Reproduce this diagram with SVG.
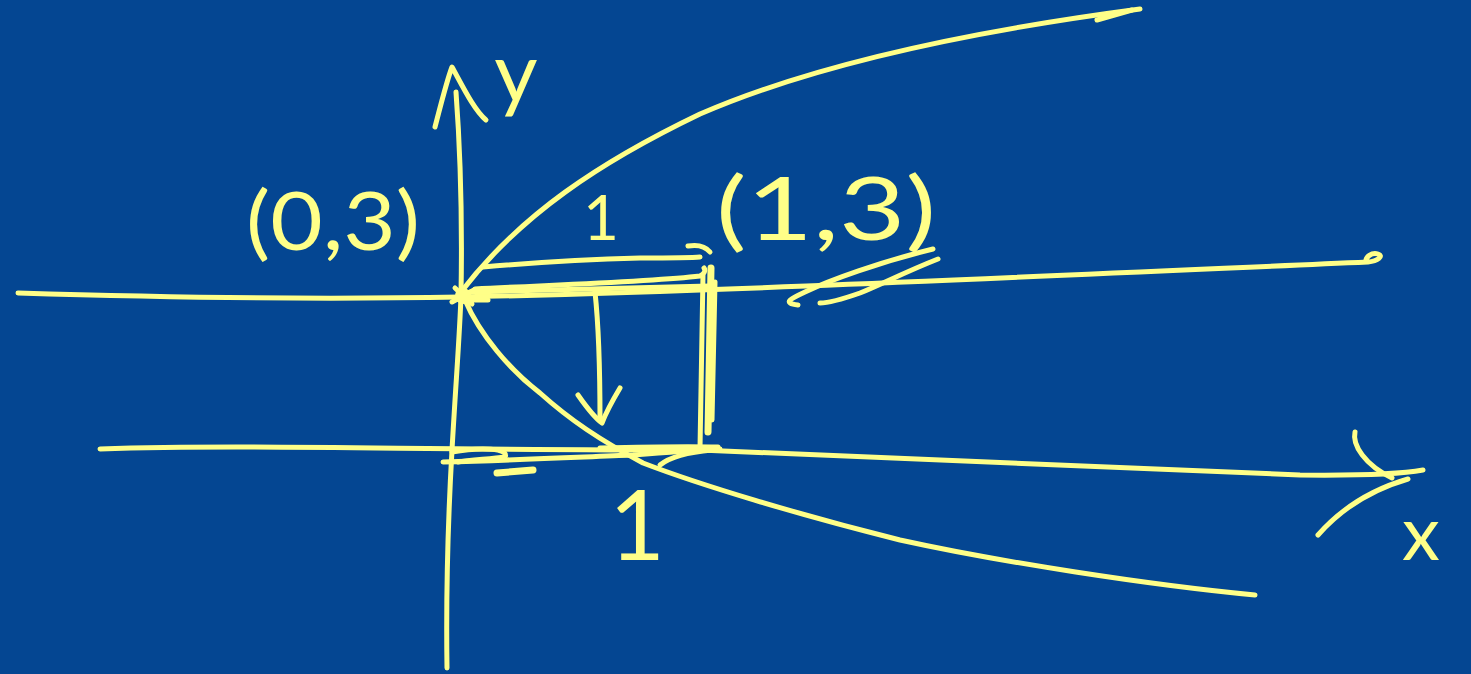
<svg xmlns="http://www.w3.org/2000/svg" width="1471" height="674" viewBox="0 0 1471 674">
<style>
.ink{fill:none;stroke:#ffff88;stroke-width:5;stroke-linecap:round;stroke-linejoin:round}
.thick{stroke-width:7}
.lbl{fill:#ffff88;font-family:Lato,"Liberation Sans",sans-serif;font-weight:400}
</style>
<rect width="1471" height="674" fill="#044692"/>
<g id="axes">
<path class="ink" d="M447,668 C446,600 448,520 452,450 C456,380 460,330 461,295 C462,240 461,160 456,92"/>
<path class="ink" d="M435,127 C442,100 447,80 452,67 C462,85 474,110 486,120"/>
<path class="ink" d="M18,293 C150,297 300,300 460,297 C700,292 1000,278 1368,262 C1378,261 1384,256 1378,254 C1372,252 1365,257 1366,262"/>
<path class="ink" d="M100,449 C250,444 400,450 700,450 L1300,475 Q1390,476 1423,470"/>
<path class="ink" d="M1355,432 C1352,445 1365,465 1392,478"/>
<path class="ink" d="M1318,535 C1340,510 1370,490 1408,479"/>
</g>
<g id="parabola">
<path class="ink" d="M461,292 C520,215 600,162 700,114 C820,62 980,30 1140,9"/>
<path class="ink" d="M1097,20 L1132,10"/>
<path class="ink" d="M465,300 C480,335 510,370 540,393 C570,420 600,440 643,463 C700,485 800,515 900,540 C1000,562 1150,585 1255,595"/>
</g>
<g id="rectangle">
<path class="ink" d="M483,267 C540,262 600,259 640,258 C670,258 690,258 700,257"/>
<path class="ink" d="M688,246 C700,244 706,247 710,252"/>
<path class="ink" d="M475,289 C550,285 650,282 700,276 C704,274 706,271 704,268"/>
<path class="ink" d="M470,292 C560,290 650,288 710,286"/>
<path class="ink thick" d="M711,268 L708,432"/>
<path class="ink" d="M703,275 L700,448"/>
<path class="ink" d="M715,282 L712,420"/>
<path class="ink" d="M452,452 C480,447 510,448 505,457 C490,459 470,460 458,462"/>
<path class="ink" d="M443,462 C520,460 580,457 633,455 C670,452 700,450 720,449"/>
<path class="ink thick" d="M497,473 L533,470"/>
<path class="ink" d="M660,465 C670,457 690,452 712,450"/>
<path class="ink" d="M600,448 C640,447 680,446 718,447"/>
<circle cx="463" cy="296" r="8" fill="#ffff88"/>
<path class="ink" d="M452,302 L474,290 M455,288 L472,304 M470,300 L488,300"/>
</g>
<g id="down-arrow">
<path class="ink" d="M595,292 C598,320 600,360 600,420"/>
<path class="ink" d="M578,395 C585,405 595,418 602,423 C607,410 614,398 620,388"/>
</g>
<g id="hatch">
<path class="ink" d="M933,249 C880,262 830,280 805,292 C790,299 782,303 798,305"/>
<path class="ink" d="M938,259 C905,272 880,285 860,293 C840,300 825,303 820,303"/>
</g>
<g id="labels">
<text class="lbl" x="246" y="250" font-size="82" textLength="174" lengthAdjust="spacingAndGlyphs">(0,3)</text>
<text class="lbl" x="716" y="240" font-size="88" textLength="220" lengthAdjust="spacingAndGlyphs">(1,3)</text>
<text class="lbl" x="516" y="102" font-size="84" text-anchor="middle">y</text>
<text class="lbl" x="1421" y="560" font-size="76" text-anchor="middle">x</text>
<text class="lbl" x="601" y="240" font-size="62" font-weight="700" text-anchor="middle">1</text>
<text class="lbl" x="637" y="560" font-size="96" text-anchor="middle">1</text>
</g>
</svg>
